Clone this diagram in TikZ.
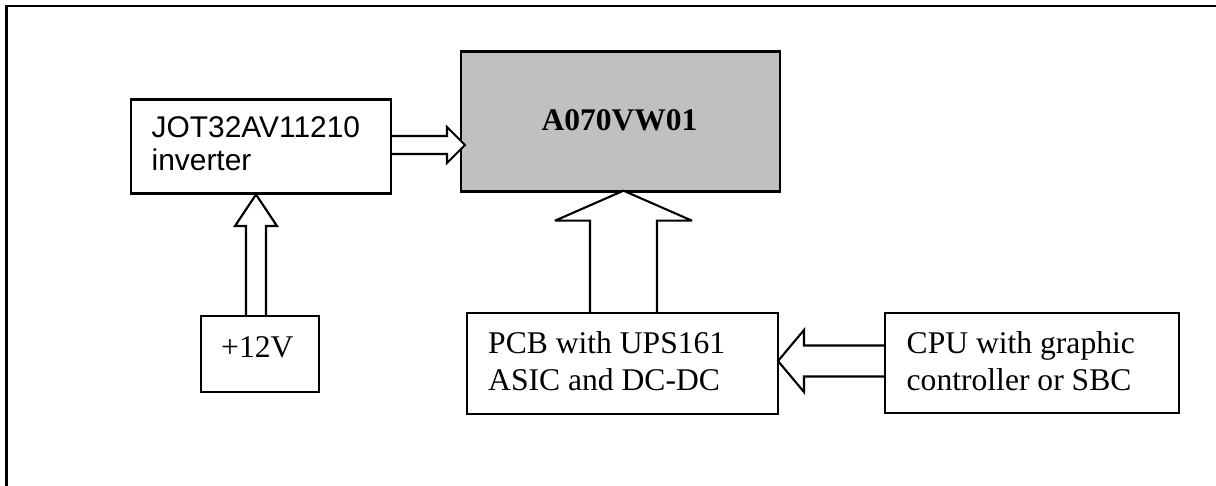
\documentclass[tikz,border=0pt]{standalone}
\usepackage{fontspec}
\setmainfont{Liberation Serif}
\newfontfamily\arialfont{Liberation Sans}
\usetikzlibrary{calc}
\definecolor{panelgrey}{HTML}{C0C0C0}
\tikzset{
  x=1pt,y=-1pt,
  plainbox/.style={draw=black,line width=2.1pt,inner sep=0pt,outer sep=0pt,anchor=north west},
  greybox/.style={plainbox,fill=panelgrey,line width=2.6pt},
  boxtext/.style={anchor=base west,inner sep=0pt,align=left,font=\fontsize{31.6}{36.7}\selectfont},
  sanstext/.style={boxtext,font=\arialfont\fontsize{29.9}{33}\selectfont},
  fatarrow/.style n args={3}{draw=black,fill=white,line width=2.1pt,miter limit=3,
    to path={
      ($(\tikztotarget)!#3pt!(\tikztostart)$) coordinate (hb)
      ($(\tikztostart)!#1pt!-90:(\tikztotarget)$)
      -- ($(hb)!#1pt!-90:(\tikztotarget)$)
      -- ($(hb)!#2pt!-90:(\tikztotarget)$)
      -- (\tikztotarget)
      -- ($(hb)!#2pt!90:(\tikztotarget)$)
      -- ($(hb)!#1pt!90:(\tikztotarget)$)
      -- ($(\tikztostart)!#1pt!90:(\tikztotarget)$)
    }},
}
\begin{document}
\begin{tikzpicture}
\useasboundingbox (0,0) rectangle (1216,486);
\fill[white] (0,0) rectangle (1216,486);
\coordinate (frameBL) at (6.5,486);
\coordinate (frameTL) at (6.5,6);
\coordinate (frameTR) at (1216,6);
\draw[line width=2.1pt,line cap=butt] (frameBL) -- (frameTL) -- (frameTR);

\node[plainbox,minimum width=260pt,minimum height=94pt] (inv) at (131,99.5) {};
\node[plainbox,minimum width=118pt,minimum height=76pt] (v12) at (201,316) {};
\node[greybox,minimum width=319pt,minimum height=140pt] (lcd) at (461,51.7) {};
\node[plainbox,minimum width=311pt,minimum height=101pt] (pcb) at (467,313) {};
\node[plainbox,minimum width=294pt,minimum height=100pt] (cpu) at (885,313) {};

\node[sanstext] (invt) at (151.5,170.5) {JOT32AV11210\\inverter};
\node[boxtext] (v12t) at (221,357.5) {+12V};
\node[boxtext,font=\bfseries\fontsize{31.5}{36.7}\selectfont] (lcdt) at (541.5,130.5) {A070VW01};
\node[boxtext] (pcbt) at (488,390.5) {PCB with UPS161\\ASIC and DC-DC};
\node[boxtext] (cput) at (906.5,390) {CPU with graphic\\controller or SBC};

\coordinate (a1s) at ([xshift=1.05pt,yshift=1.5pt]inv.east);
\coordinate (a1e) at ([xshift=4pt]lcd.west |- a1s);
\coordinate (a2s) at ([xshift=-4pt,yshift=1.05pt]v12.north);
\coordinate (a2e) at ([yshift=-1pt]a2s |- inv.south);
\coordinate (a3s) at ([xshift=1pt,yshift=1.05pt]pcb.north);
\coordinate (a3e) at ([yshift=1pt]a3s |- lcd.south);
\coordinate (a4e) at ([yshift=2.5pt]pcb.east);
\coordinate (a4s) at ([xshift=-1.05pt]cpu.west |- a4e);
\draw[fatarrow={9}{18}{18}] (a1s) to (a1e);
\draw[fatarrow={10}{21}{31.5}] (a2s) to (a2e);
\draw[fatarrow={33.5}{68.5}{30}] (a3s) to (a3e);
\draw[fatarrow={15.5}{31}{26}] (a4s) to (a4e);
\end{tikzpicture}
\end{document}
